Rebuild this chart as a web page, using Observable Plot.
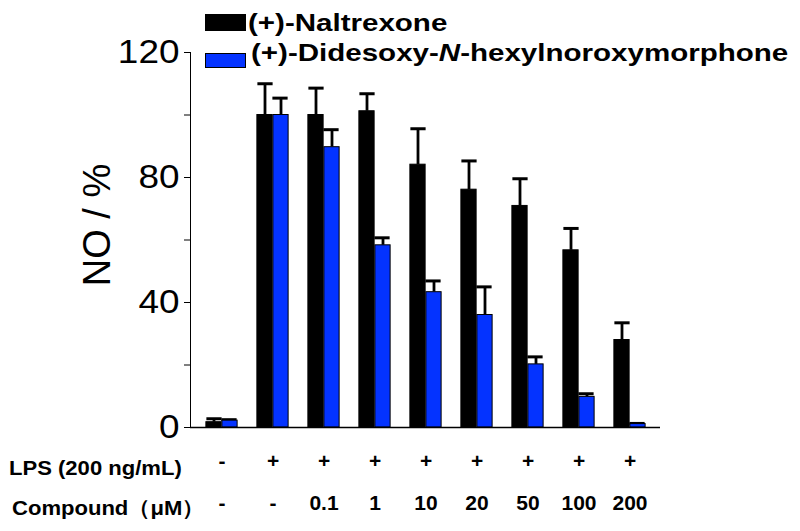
<!DOCTYPE html>
<html>
<head>
<meta charset="utf-8">
<script src="https://cdn.jsdelivr.net/npm/d3@7"></script>
<script src="https://cdn.jsdelivr.net/npm/@observablehq/plot@0.6"></script>
<style>
  html, body { margin: 0; padding: 0; background: #fff; }
  #wrap { position: relative; width: 800px; height: 531px; font-family: "Liberation Sans", Arial, sans-serif; color: #000; overflow: hidden; }
  #wrap svg { position: absolute; left: 0; top: 0; }
  .abs { position: absolute; white-space: nowrap; line-height: 1; }
  .leg { font-size: 24px; font-weight: bold; transform: scaleX(1.23); transform-origin: left center; }
  .row { font-size: 21px; font-weight: bold; transform: scaleX(1.05); transform-origin: left center; }
  .sw { position: absolute; box-sizing: border-box; border: 1px solid #000; }
</style>
</head>
<body>
<div id="wrap"></div>
<script>
// ---- data ----
const groupIndex = [0, 1, 2, 3, 4, 5, 6, 7, 8];
const lpsLabels = ["-", "+", "+", "+", "+", "+", "+", "+", "+"];
const compoundLabels = ["-", "-", "0.1", "1", "10", "20", "50", "100", "200"];
const seriesNames = ["(+)-Naltrexone", "(+)-Didesoxy-N-hexylnoroxymorphone"];
const naltrexone    = [1.7, 100, 100, 101.2, 84.1, 76.1, 70.9, 56.7, 28.0];
const naltrexoneErr = [1.1, 10, 8.6, 5.6, 11.5, 9.2, 8.7, 7.0, 5.5];
const didesoxy      = [2.2, 100, 89.7, 58.3, 43.3, 36.0, 20.2, 9.8, 1.1];
const didesoxyErr   = [0.3, 5.4, 5.6, 2.4, 3.6, 9.0, 2.4, 1.0, 0.2];
const yTicks = [0, 20, 40, 60, 80, 100, 120];
const seriesColors = ["#000000", "#0433ff"];
const rowLabels = ["LPS (200 ng/mL)", "Compound（μM）"];
const yLabel = "NO / %";

// ---- layout ----
const W = 800, H = 531, mL = 190, mR = 140, mT = 52, mB = 104;
const padOuter = 0.04;
const step = (W - mL - mR) / (groupIndex.length + 2 * padOuter);
const half = step / 2;
const barW = 16;

const rowsA = groupIndex.map(i => ({g: i, value: naltrexone[i], err: naltrexoneErr[i]}));
const rowsB = groupIndex.map(i => ({g: i, value: didesoxy[i], err: didesoxyErr[i]}));

const insA = {insetLeft: half - barW, insetRight: half};
const insB = {insetLeft: half, insetRight: half - barW};

const chart = Plot.plot({
  width: W, height: H,
  marginLeft: mL, marginRight: mR, marginTop: mT, marginBottom: mB,
  style: {fontFamily: "'Liberation Sans', Arial, sans-serif", fontSize: "33px", color: "#000", background: "transparent", overflow: "visible"},
  x: {domain: groupIndex, paddingInner: 0, paddingOuter: padOuter, axis: null},
  y: {domain: [0, 120], ticks: yTicks, tickFormat: d => (d % 40 === 0 ? String(d) : ""), tickSize: 6, tickPadding: 5, line: true, label: null},
  marks: [
    // error bars (vertical)
    Plot.ruleX(rowsA, {x: "g", y1: "value", y2: d => d.value + d.err, stroke: "#000", strokeWidth: 2.8, dx: -barW / 2}),
    Plot.ruleX(rowsB, {x: "g", y1: "value", y2: d => d.value + d.err, stroke: "#000", strokeWidth: 2.8, dx: barW / 2}),
    // caps
    Plot.tickY(rowsA, {x: "g", y: d => d.value + d.err, stroke: "#000", strokeWidth: 3, insetLeft: half - barW + 0.5, insetRight: half - 0.5}),
    Plot.tickY(rowsB, {x: "g", y: d => d.value + d.err, stroke: "#000", strokeWidth: 3, insetLeft: half - 0.5, insetRight: half - barW + 0.5}),
    // bars
    Plot.barY(rowsA, {x: "g", y: "value", fill: seriesColors[0], stroke: "#000", strokeWidth: 1, ...insA}),
    Plot.barY(rowsB, {x: "g", y: "value", fill: seriesColors[1], stroke: "#000", strokeWidth: 1, ...insB}),
    // x axis baseline
    Plot.ruleY([0], {stroke: "#000", strokeWidth: 1.5}),
    // condition rows
    Plot.text(groupIndex, {x: d => d, text: d => lpsLabels[d], frameAnchor: "bottom", dy: 40, fontSize: 21, fontWeight: "bold", fill: "#000"}),
    Plot.text(groupIndex, {x: d => d, text: d => compoundLabels[d], frameAnchor: "bottom", dy: 82, fontSize: 21, fontWeight: "bold", fill: "#000"})
  ]
});

// widen y tick labels like the reference
chart.querySelectorAll('g[aria-label^="y-axis"] text').forEach(t => {
  const tr = t.getAttribute("transform");
  t.setAttribute("transform", (tr ? tr + " " : "") + "scale(1.12,1)");
});

const wrap = document.getElementById("wrap");
wrap.appendChild(chart);

function addDiv(cls, html, styles) {
  const d = document.createElement("div");
  d.className = cls;
  d.innerHTML = html;
  Object.assign(d.style, styles);
  wrap.appendChild(d);
  return d;
}

// legend
addDiv("sw", "", {left: "205px", top: "14px", width: "41px", height: "17px", background: seriesColors[0]});
addDiv("sw", "", {left: "205px", top: "53px", width: "41px", height: "15px", background: seriesColors[1]});
const fmt = s => s.replace("-N-", "-<i>N</i>-");
addDiv("abs leg", fmt(seriesNames[0]), {left: "248px", top: "11px"});
addDiv("abs leg", fmt(seriesNames[1]), {left: "251px", top: "41px"});

// row labels
addDiv("abs row", rowLabels[0], {left: "9px", top: "457px"});
addDiv("abs row", rowLabels[1], {left: "12px", top: "497px"});

// y label
addDiv("abs", yLabel, {left: "97px", top: "225px", fontSize: "38px", transform: "translate(-50%,-50%) rotate(-90deg)"});
</script>
</body>
</html>
